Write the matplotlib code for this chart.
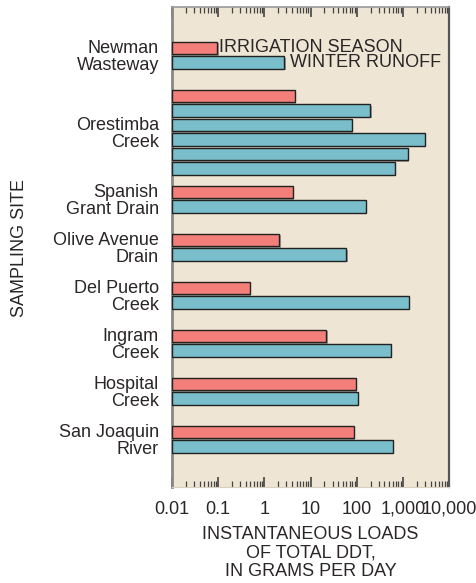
import matplotlib
matplotlib.use("Agg")
import matplotlib.pyplot as plt
import matplotlib.patheffects as pe
from matplotlib.ticker import LogLocator, FixedLocator, NullFormatter

plt.rcParams['font.family'] = ['Liberation Sans', 'DejaVu Sans']

# ---- data ----
sites = ["Newman\nWasteway", "Orestimba\nCreek", "Spanish\nGrant Drain",
         "Olive Avenue\nDrain", "Del Puerto\nCreek", "Ingram\nCreek",
         "Hospital\nCreek", "San Joaquin\nRiver"]
irrigation = [0.085, 4.5, 4.1, 2.1, 0.48, 22, 95, 88]
winter = [[2.7], [198, 79, 2960, 1290, 660], [157], [60], [1330],
          [550], [105], [605]]
tick_values = [0.01, 0.1, 1, 10, 100, 1000, 10000]
tick_labels = ["0.01", "0.1", "1", "10", "100", "1,000", "10,000"]
legend_labels = ["IRRIGATION SEASON", "WINTER RUNOFF"]

RED = "#F47E79"
BLUE = "#79BECA"
BG = "#EEE5D4"
TXT = "#2A2627"

W, H = 477, 583
fig = plt.figure(figsize=(W / 100, H / 100), dpi=100)
ax = fig.add_axes([172 / W, 1 - 487 / H, (449 - 172) / W, (487 - 7) / H])
ax.set_facecolor(BG)
ax.set_xscale("log")
ax.set_xlim(0.01, 10000)
ax.set_ylim(487, 7)

# layout (vertical units in axes pixel space)
group_step = 48
slot = 14.5
bar_h = 12.5
shadow = [pe.SimplePatchShadow(offset=(1, -1), shadow_rgbFace="#555555", alpha=0.5), pe.Normal()]

units_used = 0
label_pos = []
first_rows = []
for i, site in enumerate(sites):
    start = group_step * (1 + units_used)
    nbars = 1 + len(winter[i])
    units_used += 1 if nbars <= 2 else 2
    ys = [start + slot * j for j in range(nbars)]
    vals = [irrigation[i]] + winter[i]
    cols = [RED] + [BLUE] * len(winter[i])
    ax.barh(ys, vals, height=bar_h, left=0.01, color=cols, edgecolor="#222222",
            linewidth=1.0, path_effects=shadow, zorder=3)
    label_pos.append((ys[0] + ys[-1]) / 2)
    first_rows.append((ys, vals))

# legend-like text next to Newman bars
ys0, vals0 = first_rows[0]
for k in range(2):
    ax.annotate(legend_labels[k], xy=(vals0[k], ys0[k]), xytext=(3 if k == 0 else 4, 0),
                textcoords="offset points", va="center", ha="left",
                fontsize=13, color=TXT)

ax.set_yticks(label_pos)
ax.set_yticklabels(sites, fontsize=13, color=TXT, linespacing=0.95)
ax.tick_params(axis="y", length=0, pad=9.5)

ax.xaxis.set_major_locator(FixedLocator(tick_values))
ax.set_xticklabels(tick_labels, fontsize=13, color=TXT)
ax.xaxis.set_minor_locator(LogLocator(base=10, subs=range(2, 10)))
ax.xaxis.set_minor_formatter(NullFormatter())
ax.tick_params(axis="x", which="major", direction="in", length=7, width=1.2,
               top=True, bottom=True, color="#444444", pad=10)
ax.tick_params(axis="x", which="minor", direction="in", length=4, width=0.9,
               top=True, bottom=True, color="#444444")

ax.spines["left"].set_color("#888888")
ax.spines["left"].set_linewidth(2)
ax.spines["right"].set_color("#555555")
ax.spines["right"].set_linewidth(1.6)
ax.spines["top"].set_color("#999999")
ax.spines["top"].set_linewidth(1.2)
ax.spines["bottom"].set_color("#D8D0C0")
ax.spines["bottom"].set_linewidth(0.8)

ax.set_xlabel("INSTANTANEOUS LOADS\nOF TOTAL DDT,\nIN GRAMS PER DAY",
              fontsize=13, color=TXT, labelpad=6, linespacing=1.12)
fig.text(20 / W, 1 - 248 / H, "SAMPLING SITE", rotation=90, fontsize=13,
         color=TXT, ha="center", va="center")

fig.savefig("out.png", dpi=100, facecolor="white")
